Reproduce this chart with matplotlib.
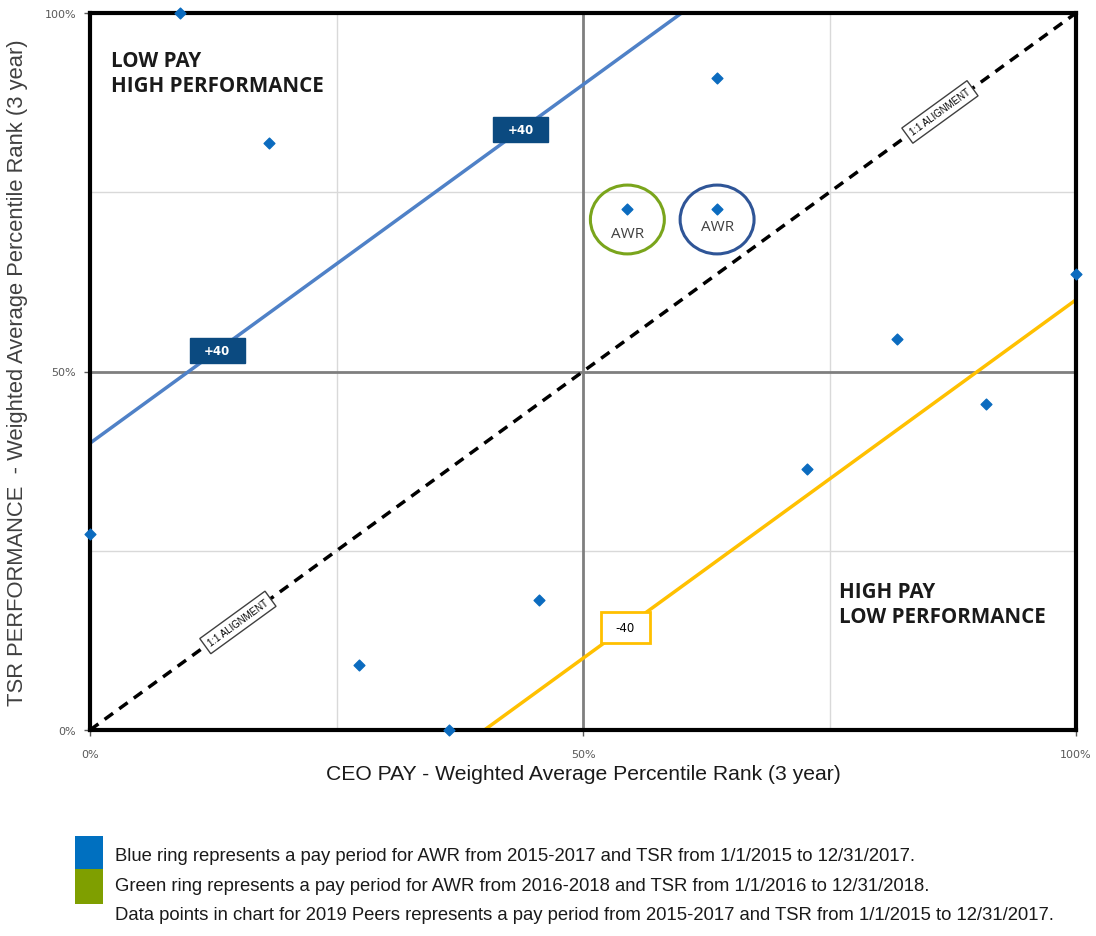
import matplotlib
matplotlib.use("Agg")
import matplotlib.pyplot as plt
from matplotlib.patches import Ellipse, Rectangle

# Datos de los pares (CEO PAY %, TSR %)
pago_pares = [9.1, 18.2, 63.6, 100.0, 81.8, 90.9, 72.7, 0.0, 45.5, 27.3, 36.4]
tsr_pares = [100.0, 81.8, 90.9, 63.6, 54.5, 45.5, 36.4, 27.3, 18.2, 9.1, 0.0]

# AWR (anillo verde y anillo azul)
awr_pago = [54.5, 63.6]
awr_tsr = [72.7, 72.7]
awr_colores = ["#7AA51C", "#2F5597"]

# Lineas de referencia
linea_x = [0, 100]
alineacion = [0, 100]
desvio = 40

ticks = [0, 50, 100]
tick_labels = ["0%", "50%", "100%"]

azul_punto = "#0B6BBF"

fig = plt.figure(figsize=(10.96, 9.37), dpi=100)
ax = fig.add_axes([90/1096, 1-731/937, 986/1096, 717/937])
ax.set_xlim(0, 100)
ax.set_ylim(0, 100)

# Cuadricula
for v in [25, 75]:
    ax.axvline(v, color="#D9D9D9", lw=1, zorder=1)
    ax.axhline(v, color="#D9D9D9", lw=1, zorder=1)
ax.axvline(50, color="#7F7F7F", lw=2, zorder=1)
ax.axhline(50, color="#7F7F7F", lw=2, zorder=1)

for s in ax.spines.values():
    s.set_linewidth(3)
    s.set_color("black")

# Linea 1:1 y lineas +40 / -40
ax.plot(linea_x, alineacion, color="black", lw=2.5, ls=(0, (3, 2.2)), zorder=2, clip_on=False)
ax.plot([0, 100 - desvio], [desvio, 100], color="#4F81C7", lw=2.5, zorder=2)
ax.plot([desvio, 100], [0, 100 - desvio], color="#FFC000", lw=2.5, zorder=2)

# Puntos
ax.scatter(pago_pares + awr_pago, tsr_pares + awr_tsr, marker="D", s=30,
           color=azul_punto, zorder=5, clip_on=False)

# Anillos AWR
for px, py, c in zip(awr_pago, awr_tsr, awr_colores):
    ax.add_patch(Ellipse((px, py - 1.5), 7.5, 9.6, fill=False, edgecolor=c, lw=2.2, zorder=4))
ax.text(awr_pago[0], awr_tsr[0] - 3.4, "AWR", ha="center", va="center", fontsize=11,
        color="#404040", family="Open Sans")
ax.text(awr_pago[1], awr_tsr[1] - 2.5, "AWR", ha="center", va="center", fontsize=11,
        color="#404040", family="Open Sans")

# Etiquetas +40 / -40
for xx in [12.9, 43.7]:
    ax.add_patch(Rectangle((xx - 2.8, xx + desvio - 1.75), 5.6, 3.5, fc="#0B4A80",
                           ec="#0B4A80", zorder=6))
    ax.text(xx, xx + desvio, "+40", ha="center", va="center", fontsize=8.5,
            color="white", fontweight="bold", zorder=7)
xx = 54.3
ax.add_patch(Rectangle((xx - 2.5, xx - desvio - 2.15), 5.0, 4.3, fc="white",
                       ec="#FFC000", lw=2, zorder=6))
ax.text(xx, xx - desvio, "-40", ha="center", va="center", fontsize=8.5,
        color="black", zorder=7)

# Etiquetas 1:1 ALIGNMENT
for v in [15.0, 86.2]:
    ax.text(v, v, "1:1 ALIGNMENT", ha="center", va="center", fontsize=7, rotation=36,
            rotation_mode="anchor", color="black", family="Liberation Sans",
            bbox=dict(boxstyle="square,pad=0.45", fc="white", ec="#404040", lw=1), zorder=6)

# Textos de cuadrantes
ax.text(2.1, 94.8, "LOW PAY\nHIGH PERFORMANCE", ha="left", va="top", fontsize=14.8,
        fontweight="bold", family="Open Sans", color="#1a1a1a", linespacing=1.25)
ax.text(76.0, 20.8, "HIGH PAY\nLOW PERFORMANCE", ha="left", va="top", fontsize=14.8,
        fontweight="bold", family="Open Sans", color="#1a1a1a", linespacing=1.25)

# Ejes
ax.set_xticks(ticks)
ax.set_xticklabels(tick_labels)
ax.set_yticks(ticks)
ax.set_yticklabels(tick_labels)
ax.tick_params(labelsize=8, colors="#595959", length=4, width=1, pad=10)
ax.tick_params(axis="y", pad=6)
ax.set_xlabel("CEO PAY - Weighted Average Percentile Rank (3 year)", fontsize=15.2,
              family="Liberation Sans", color="#1a1a1a", labelpad=3)
ax.set_ylabel("TSR PERFORMANCE  - Weighted Average Percentile Rank (3 year)", fontsize=15.8,
              family="Liberation Sans", color="#404040", labelpad=12)

# Leyenda inferior
fig.patches.append(Rectangle((75/1096, 1-870/937), 28/1096, 33/937, transform=fig.transFigure,
                             fc="#0070C0", ec="none"))
fig.patches.append(Rectangle((75/1096, 1-905/937), 28/1096, 35/937, transform=fig.transFigure,
                             fc="#7F9F00", ec="none"))
notas = [
    "Blue ring represents a pay period for AWR from 2015-2017 and TSR from 1/1/2015 to 12/31/2017.",
    "Green ring represents a pay period for AWR from 2016-2018 and TSR from 1/1/2016 to 12/31/2018.",
    "Data points in chart for 2019 Peers represents a pay period from 2015-2017 and TSR from 1/1/2015 to 12/31/2017.",
]
for i, t in enumerate(notas):
    fig.text(115/1096, 1-(857 + 29.5*i)/937, t, fontsize=13.3, va="center", ha="left",
             family="Liberation Sans", color="#1a1a1a")

fig.savefig("out.png", dpi=100)
